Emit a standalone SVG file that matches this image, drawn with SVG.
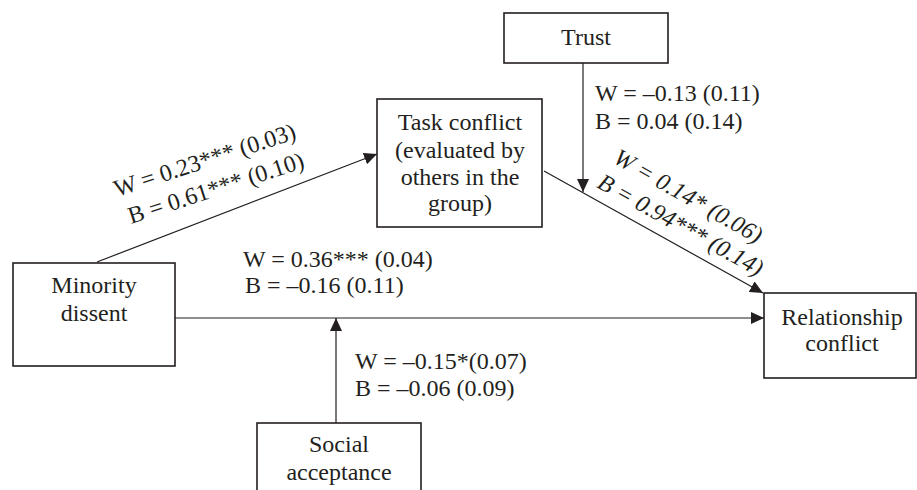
<svg xmlns="http://www.w3.org/2000/svg" width="917" height="490" viewBox="0 0 917 490">
<style>
.box{fill:#fff;stroke:#231f20;stroke-width:1.6}
.ln{stroke:#231f20;stroke-width:1.2;fill:none}
text{font-family:"Liberation Serif","Times New Roman",serif;font-size:24px;fill:#231f20}
.c{text-anchor:middle}
.i{font-style:italic}
</style>
<defs>
<marker id="ah" markerUnits="userSpaceOnUse" markerWidth="14" markerHeight="12" refX="13" refY="6" orient="auto">
<path d="M0,0 L13,6 L0,12 z" fill="#231f20"/>
</marker>
</defs>
<g id="connectors">
<line class="ln" x1="97" y1="262" x2="377" y2="154" marker-end="url(#ah)"/>
<line class="ln" x1="175" y1="318" x2="764" y2="318" marker-end="url(#ah)"/>
<line class="ln" x1="336" y1="423" x2="336" y2="318" marker-end="url(#ah)"/>
<line class="ln" x1="583" y1="63" x2="583" y2="192" marker-end="url(#ah)"/>
<line class="ln" x1="544" y1="171" x2="763" y2="293" marker-end="url(#ah)"/>
</g>
<g id="labels">
<text transform="translate(117,197) rotate(-18)">W = 0.23*** (0.03)</text>
<text transform="translate(131,224) rotate(-18)">B = 0.61*** (0.10)</text>
<text x="243" y="267">W = 0.36*** (0.04)</text>
<text x="245" y="293">B = –0.16 (0.11)</text>
<text x="595" y="101">W = –0.13 (0.11)</text>
<text x="595" y="129">B = 0.04 (0.14)</text>
<text class="i" transform="translate(612,162) rotate(29.5)">W = 0.14* (0.06)</text>
<text class="i" transform="translate(596,187) rotate(29)">B = 0.94*** (0.14)</text>
<text x="355" y="369">W = –0.15*(0.07)</text>
<text x="355" y="396">B = –0.06 (0.09)</text>
</g>
<g id="minority">
<rect class="box" x="13" y="263" width="162" height="103"/>
<text class="c" x="94" y="293">Minority</text>
<text class="c" x="94" y="321">dissent</text>
</g>
<g id="task">
<rect class="box" x="377" y="99" width="165" height="128"/>
<text class="c" x="460" y="130">Task conflict</text>
<text class="c" x="460" y="158">(evaluated by</text>
<text class="c" x="460" y="185">others in the</text>
<text class="c" x="460" y="211">group)</text>
</g>
<g id="trust">
<rect class="box" x="504" y="13" width="164" height="50"/>
<text class="c" x="586" y="45">Trust</text>
</g>
<g id="relationship">
<rect class="box" x="764" y="293" width="152" height="85"/>
<text class="c" x="842" y="325">Relationship</text>
<text class="c" x="842" y="351">conflict</text>
</g>
<g id="social">
<rect class="box" x="257" y="423" width="164" height="80"/>
<text class="c" x="339" y="452">Social</text>
<text class="c" x="339" y="480">acceptance</text>
</g>
</svg>
